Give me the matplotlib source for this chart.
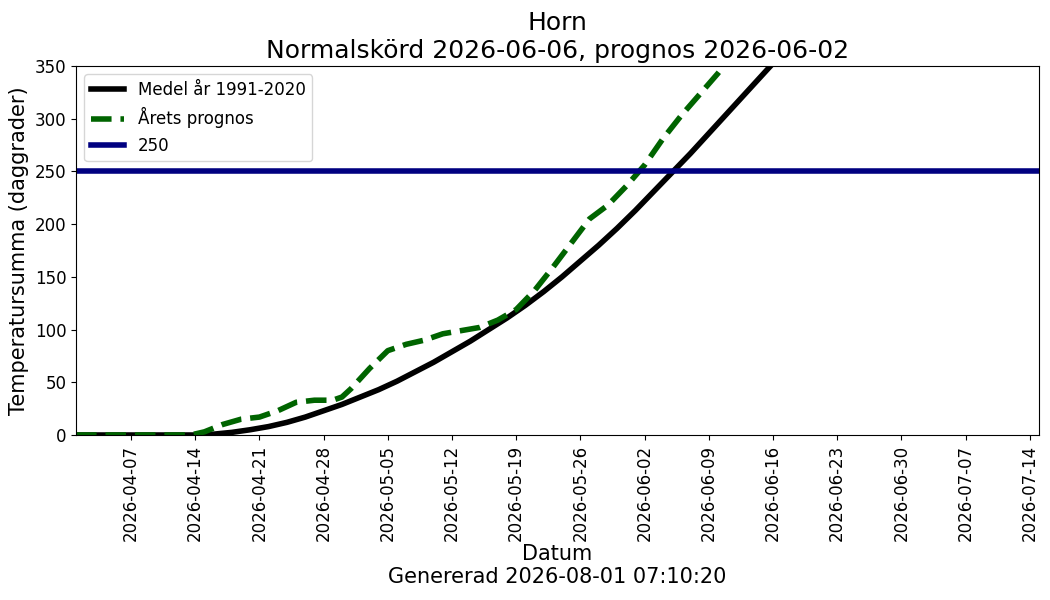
import numpy as np
import matplotlib
matplotlib.use("Agg")
import matplotlib.pyplot as plt
import matplotlib.dates as mdates

START = np.datetime64("2026-04-01")

# Mean 1991-2020 (day offset from 2026-04-01, degree days)
mean_days = [0, 13, 15, 17, 19, 21, 23, 25, 27, 29, 31, 33, 35, 37, 39, 41, 43,
             45, 47, 49, 51, 53, 55, 57, 59, 61, 63, 65, 67, 69, 71, 73, 75,
             77, 79, 81, 84, 87, 90, 93, 96, 99, 102, 105]
mean_vals = [0, 0, 0.8, 2.5, 5, 8, 12, 17, 23, 29, 36, 43, 51, 60, 69, 79, 89,
             100, 111, 123, 136, 150, 165, 180, 196, 213, 231, 249, 267, 286,
             305, 324, 343, 362, 381, 400, 430, 460, 490, 520, 550, 580, 610,
             640]

# This year's forecast
prog_days = [0, 12, 13, 14, 16, 18, 20, 22, 24, 26, 28, 29, 30, 32, 34, 36, 38,
             40, 42, 44, 46, 48, 50, 52, 54, 56, 58, 60, 62, 64, 66, 68, 70, 72]
prog_vals = [0, 0, 1, 3, 10, 15, 17, 23, 31, 33, 33, 36, 44, 63, 80, 86, 90,
             96, 99, 102, 109, 119, 137, 159, 182, 205, 218, 236, 256, 281,
             303, 323, 343, 365]

threshold = 250
title = "Horn\nNormalskörd 2026-06-06, prognos 2026-06-02"
generated = "Genererad 2026-08-01 07:10:20"

mean_dates = START + np.array(mean_days).astype("timedelta64[D]")
prog_dates = START + np.array(prog_days).astype("timedelta64[D]")

fig = plt.figure(figsize=(10.5, 6), dpi=100)
ax = fig.add_axes([0.0724, 0.275, 0.917, 0.615])

ax.plot(mean_dates, mean_vals, color="black", lw=4, label="Medel år 1991-2020")
ax.plot(prog_dates, prog_vals, color="darkgreen", lw=4, ls="--",
        label="Årets prognos")
ax.axhline(threshold, color="navy", lw=4, label=str(threshold))

ax.set_xlim(START, np.datetime64("2026-07-15"))
ax.set_ylim(0, 350)
ticks = START + np.arange(6, 105, 7).astype("timedelta64[D]")
ax.set_xticks(ticks)
ax.xaxis.set_major_formatter(mdates.DateFormatter("%Y-%m-%d"))
ax.tick_params(axis="x", labelrotation=90, labelsize=12)
ax.tick_params(axis="y", labelsize=12)

ax.set_title(title, fontsize=18)
ax.set_ylabel("Temperatursumma (daggrader)", fontsize=15)
ax.set_xlabel("Datum\n" + generated, fontsize=15, labelpad=2)
ax.legend(loc="upper left", fontsize=12)

fig.savefig("out.png", dpi=100)
